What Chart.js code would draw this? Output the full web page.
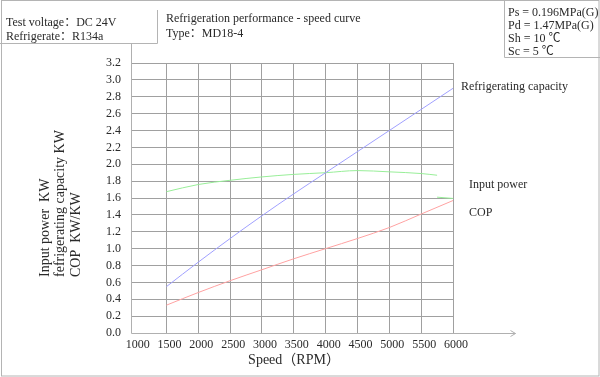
<!DOCTYPE html>
<html>
<head>
<meta charset="utf-8">
<script src="https://cdn.jsdelivr.net/npm/chart.js@4"></script>
<style>
html,body{margin:0;padding:0;background:#fff;}
canvas{display:block;}
</style>
</head>
<body>
<canvas id="c" width="600" height="377"></canvas>
<script>
// ---- data ----
const speeds = [1500, 2000, 2500, 3000, 3500, 4000, 4500, 5000, 5500, 6000];
const refrigeratingCapacity = [0.55, 0.84, 1.12, 1.39, 1.65, 1.90, 2.15, 2.40, 2.65, 2.90];
const cop = [0.33, 0.48, 0.62, 0.75, 0.88, 1.00, 1.12, 1.25, 1.41, 1.57];
const inputPowerSpeeds = [1500, 2000, 2500, 3000, 3500, 4000, 4500, 5000, 5500, 5750];
const inputPower = [1.675, 1.76, 1.81, 1.85, 1.88, 1.90, 1.925, 1.91, 1.89, 1.87];
const inputPowerTailSpeeds = [5750, 6000];
const inputPowerTail = [1.61, 1.595];
const xTicks = [1000, 1500, 2000, 2500, 3000, 3500, 4000, 4500, 5000, 5500, 6000];
const yTicks = [0, 0.2, 0.4, 0.6, 0.8, 1.0, 1.2, 1.4, 1.6, 1.8, 2.0, 2.2, 2.4, 2.6, 2.8, 3.0, 3.2];
const yTitleLines = ['Input power  KW', 'fefrigerating capacity KW', 'COP  KW/KW'];
const xTitle = 'Speed（RPM）';
const headerLeft = ['Test voltage：DC 24V', 'Refrigerate：R134a'];
const headerTitle = ['Refrigeration performance - speed curve', 'Type：MD18-4'];
const conditions = ['Ps = 0.196MPa(G)', 'Pd = 1.47MPa(G)', 'Sh = 10 ℃', 'Sc = 5 ℃'];
const seriesNames = ['Refrigerating capacity', 'Input power', 'COP'];

const pts = (xs, ys) => xs.map((x, i) => ({x: x, y: ys[i]}));
const FONT = '"Liberation Serif", "Noto Sans CJK SC", serif';
const TXT = '#2a2a2a';
const BLUE = '#a0a0ff', GREEN = '#98ee98', RED = '#ffa2a2';

const decor = {
  id: 'decor',
  afterDraw(chart) {
    const c = chart.ctx;
    const xs = chart.scales.x;
    c.save();
    // outer border
    c.strokeStyle = '#b4b4b4';
    c.lineWidth = 1;
    c.strokeRect(1.5, 0.5, 597.5, 375.5);
    // header boxes
    c.beginPath();
    c.moveTo(157.5, 10); c.lineTo(157.5, 43.5); c.lineTo(0, 43.5);
    c.moveTo(504.5, 0); c.lineTo(504.5, 57.5); c.lineTo(600, 57.5);
    c.stroke();
    // axes
    c.strokeStyle = '#b0b0b0';
    const left = Math.round(chart.chartArea.left) + 0.5;
    const bottom = Math.round(chart.chartArea.bottom) + 0.5;
    c.beginPath();
    c.moveTo(left, 43.5); c.lineTo(left, bottom);
    c.lineTo(515.5, bottom);
    c.moveTo(510.5, bottom - 3); c.lineTo(515.5, bottom); c.lineTo(510.5, bottom + 3);
    c.stroke();
    // texts
    c.fillStyle = TXT;
    c.textBaseline = 'middle';
    c.textAlign = 'left';
    c.font = '12px ' + FONT;
    c.fillText(headerLeft[0], 6, 23);
    c.fillText(headerLeft[1], 6, 36.5);
    c.fillText(headerTitle[0], 166, 19);
    c.fillText(headerTitle[1], 166, 34);
    const cy = [12.5, 25.8, 39, 52];
    conditions.forEach((t, i) => c.fillText(t, 508, cy[i]));
    // series labels placed next to the last values
    const lastX = xs.getPixelForValue(speeds[speeds.length - 1]);
    c.fillText(seriesNames[0], lastX + 8, 87);
    c.fillText(seriesNames[1], lastX + 16, 185);
    c.fillText(seriesNames[2], lastX + 16, 212.5);
    // x title
    c.font = '14px ' + FONT;
    c.textAlign = 'center';
    c.fillText(xTitle, 294, 360.5);
    // y title (rotated, three lines)
    c.font = '14px ' + FONT;
    c.textAlign = 'left';
    const tx = [45, 60.5, 76];
    yTitleLines.forEach((t, i) => {
      c.save();
      c.translate(tx[i], 277);
      c.rotate(-Math.PI / 2);
      c.fillText(t, 0, 0);
      c.restore();
    });
    c.restore();
  }
};

new Chart(document.getElementById('c'), {
  type: 'line',
  data: {
    datasets: [
      {label: seriesNames[0], data: pts(speeds, refrigeratingCapacity), borderColor: BLUE, borderWidth: 1, pointRadius: 0, cubicInterpolationMode: 'monotone'},
      {label: seriesNames[1], data: pts(inputPowerSpeeds, inputPower), borderColor: GREEN, borderWidth: 1, pointRadius: 0, cubicInterpolationMode: 'monotone'},
      {label: seriesNames[1] + ' tail', data: pts(inputPowerTailSpeeds, inputPowerTail), borderColor: GREEN, borderWidth: 1, pointRadius: 0},
      {label: seriesNames[2], data: pts(speeds, cop), borderColor: RED, borderWidth: 1, pointRadius: 0, cubicInterpolationMode: 'monotone'}
    ]
  },
  options: {
    responsive: false,
    animation: false,
    events: [],
    layout: {padding: {left: 0, top: 63, right: 147, bottom: 0}},
    plugins: {legend: {display: false}, tooltip: {enabled: false}},
    scales: {
      x: {
        type: 'linear',
        min: 943, max: 6000,
        afterBuildTicks: s => { s.ticks = xTicks.map(v => ({value: v})); },
        afterFit: s => { s.height = 44; },
        border: {display: false},
        grid: {drawTicks: false, lineWidth: 1, color: ctx => (ctx.tick && ctx.tick.value === 1000) ? 'rgba(0,0,0,0)' : '#a0a0a0'},
        ticks: {padding: 5, labelOffset: 3, maxRotation: 0, autoSkip: false, color: TXT, font: {family: FONT, size: 12}, callback: v => String(v)}
      },
      y: {
        type: 'linear',
        min: 0, max: 3.2,
        afterBuildTicks: s => { s.ticks = yTicks.map(v => ({value: v})); },
        afterFit: s => { s.width = 131; },
        border: {display: false},
        grid: {drawTicks: false, lineWidth: 1, color: ctx => (ctx.tick && ctx.tick.value === 0) ? 'rgba(0,0,0,0)' : '#a0a0a0'},
        ticks: {padding: 10, autoSkip: false, color: TXT, font: {family: FONT, size: 12}, callback: v => Number(v).toFixed(1)}
      }
    }
  },
  plugins: [decor]
});
</script>
</body>
</html>
